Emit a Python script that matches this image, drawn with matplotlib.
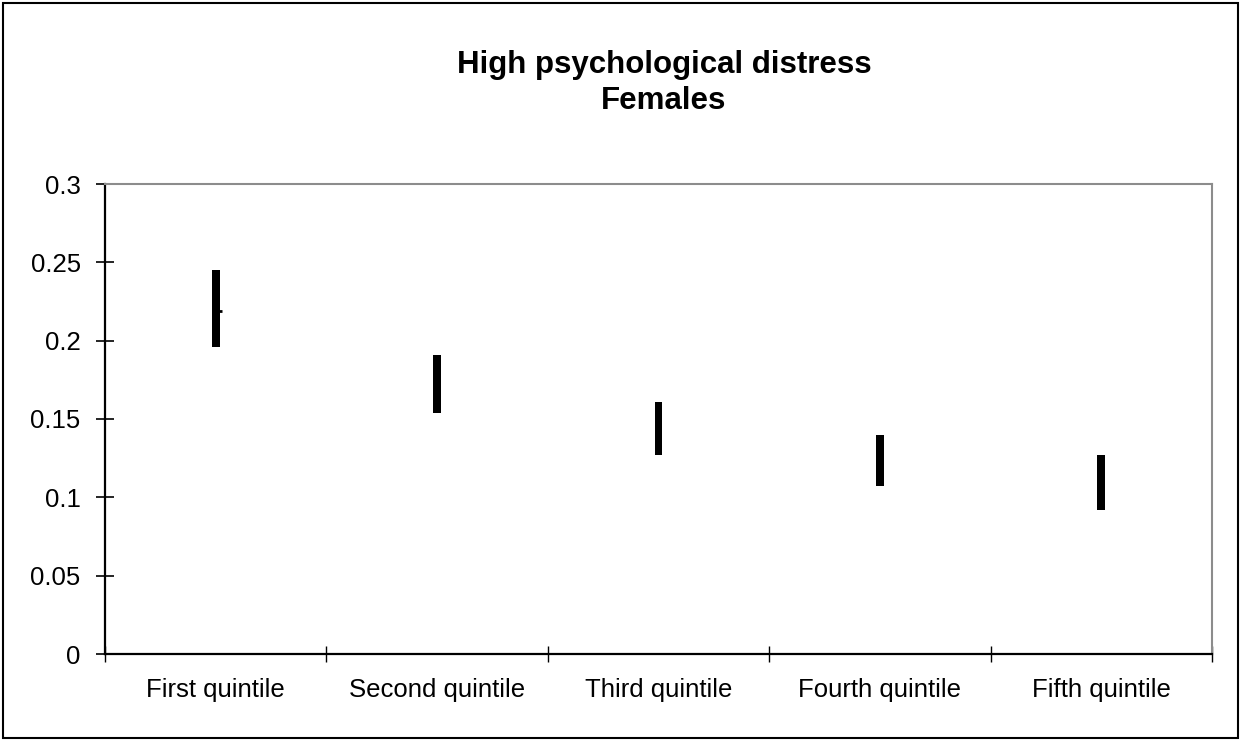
import matplotlib.pyplot as plt
import numpy as np
from matplotlib.patches import Rectangle

# Range (low-high) of high psychological distress by income quintile, females
quintiles = ["First quintile", "Second quintile", "Third quintile",
             "Fourth quintile", "Fifth quintile"]
low_values = [0.196, 0.154, 0.127, 0.107, 0.092]
high_values = [0.245, 0.191, 0.161, 0.140, 0.127]
# Only the first quintile shows its close tick
close_index = 0
close_value = 0.219

plt.rcParams['font.family'] = ['Liberation Sans', 'DejaVu Sans']

fig = plt.figure(figsize=(12.41, 7.41), dpi=100)
ax = fig.add_axes([105 / 1241, 87 / 741, 1107 / 1241, 470 / 741])

# Outer chart border
fig.patches.append(Rectangle((0.0025, 0.004), 0.995, 0.992, transform=fig.transFigure,
                             fill=False, edgecolor='black', linewidth=1.5))

x = np.arange(len(quintiles))
heights = np.array(high_values) - np.array(low_values)
ax.bar(x, heights, bottom=low_values, width=0.036, color='black', linewidth=0)
ax.plot([x[close_index]], [close_value], marker=1, markersize=4,
        markeredgewidth=2, color='black', linestyle='none')

ax.set_xlim(-0.5, len(quintiles) - 0.5)
ax.set_ylim(0, 0.3)

# Category boundaries carry the tick marks, centres carry the labels
ax.set_xticks(np.arange(-0.5, len(quintiles)), [])
ax.set_xticks(x, quintiles, minor=True)
ax.tick_params(axis='x', which='major', direction='inout', length=12, width=1, color='black')
ax.tick_params(axis='x', which='minor', length=0, pad=17, labelsize=18.5)

ax.set_yticks([0, 0.05, 0.1, 0.15, 0.2, 0.25, 0.3], ['0', '0.05', '0.1', '0.15', '0.2', '0.25', '0.3'])
ax.tick_params(axis='y', direction='inout', length=13, width=1.2, color='black', pad=11,
               labelsize=18.5)

for side in ['left', 'bottom']:
    ax.spines[side].set_color('black')
    ax.spines[side].set_linewidth(1.6)
for side in ['top', 'right']:
    ax.spines[side].set_color('#8c8c8c')
    ax.spines[side].set_linewidth(1.5)

fig.text(664 / 1241, 1 - 73 / 741, "High psychological distress", ha='center', va='baseline',
         fontsize=22.5, fontweight='bold')
fig.text(664 / 1241, 1 - 109 / 741, "Females", ha='center', va='baseline',
         fontsize=22.5, fontweight='bold')

fig.savefig('out.png', dpi=100)
